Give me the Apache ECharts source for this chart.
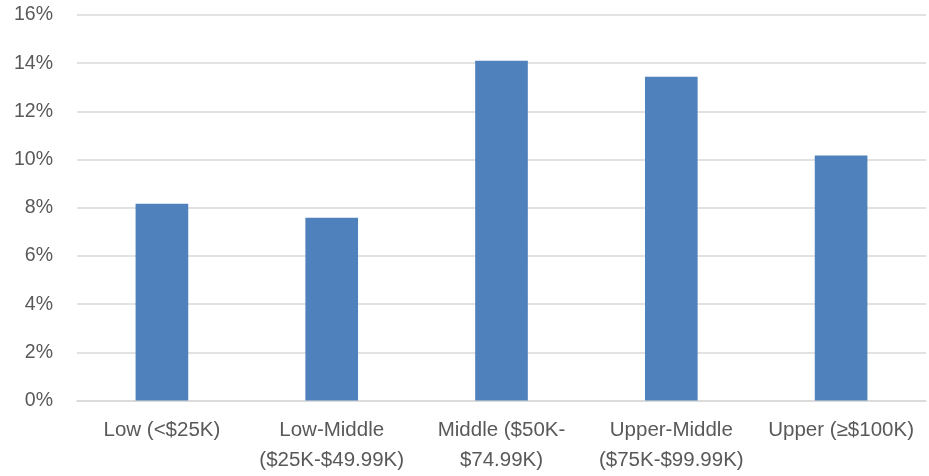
<!DOCTYPE html>
<html>
<head>
<meta charset="utf-8">
<script src="https://cdn.jsdelivr.net/npm/echarts@6/dist/echarts.min.js"></script>
<style>
  html, body { margin: 0; padding: 0; background: #fff; }
  #chart { width: 929px; height: 476px; }
</style>
</head>
<body>
<div id="chart"></div>
<script>
// Income brackets and their share (percent)
const categories = [
  'Low (<$25K)',
  'Low-Middle\n($25K-$49.99K)',
  'Middle ($50K-\n$74.99K)',
  'Upper-Middle\n($75K-$99.99K)',
  'Upper (≥$100K)'
];
const shares = [8.17, 7.58, 14.1, 13.44, 10.17];
const yTicks = { min: 0, max: 16, step: 2 };

const chart = echarts.init(document.getElementById('chart'));
chart.setOption({
  animation: false,
  grid: { left: 77, right: 3, top: 15, bottom: 75.5, containLabel: false },
  xAxis: {
    type: 'category',
    data: categories,
    axisLine: { show: true, lineStyle: { color: '#d9d9d9', width: 1.5 } },
    axisTick: { show: false },
    axisLabel: {
      interval: 0,
      color: '#595959',
      fontFamily: 'Liberation Sans, Arial, sans-serif',
      fontSize: 20.5,
      lineHeight: 30,
      margin: 15
    }
  },
  yAxis: {
    type: 'value',
    min: yTicks.min,
    max: yTicks.max,
    interval: yTicks.step,
    axisLine: { show: false },
    axisTick: { show: false },
    splitLine: { lineStyle: { color: '#d9d9d9', width: 1.5 } },
    axisLabel: {
      formatter: v => v + '%',
      color: '#595959',
      fontFamily: 'Liberation Sans, Arial, sans-serif',
      fontSize: 19.5,
      margin: 24
    }
  },
  series: [{
    type: 'bar',
    data: shares,
    barWidth: '31%',
    itemStyle: { color: '#4f81bd' }
  }]
});
</script>
</body>
</html>
